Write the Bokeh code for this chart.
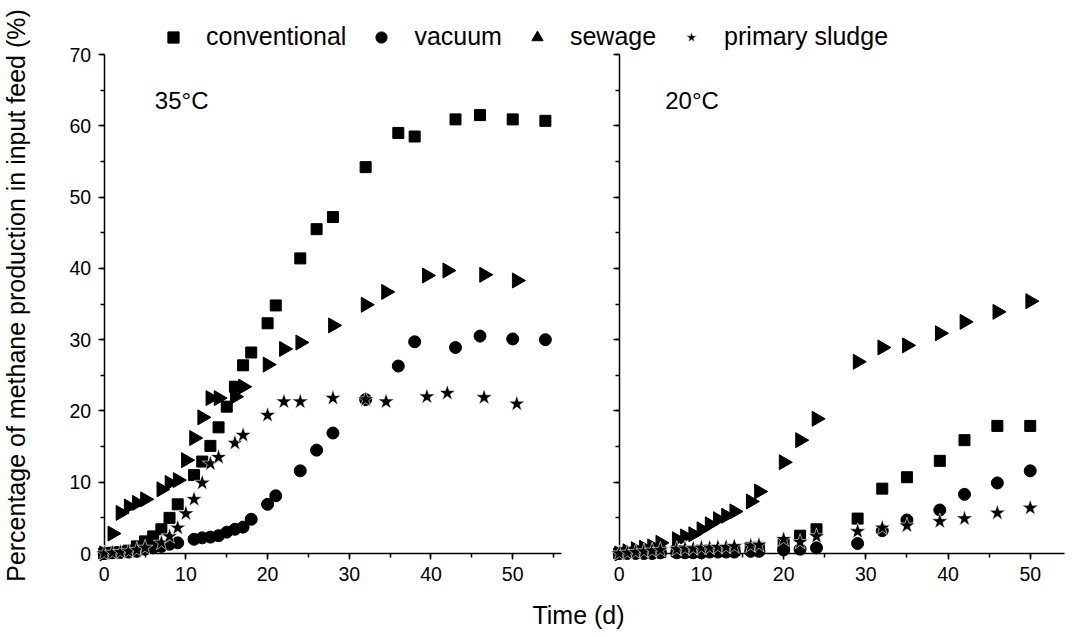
import math
from bokeh.plotting import figure
from bokeh.models import (Range1d, SingleIntervalTicker, Label, Legend, LegendItem,
                          LinearAxis, CustomJSTickFormatter)
from bokeh.embed import file_html
from bokeh.resources import INLINE

FONT = "Liberation Sans"

# ---------------- data ----------------
series_names = ["conventional", "vacuum", "sewage", "primary sludge"]
panel_titles = ["35\u00b0C", "20\u00b0C"]

# 35 C : conventional & vacuum sampled on the same days
t_cv_35 = [0, 1, 2, 3, 4, 5, 6, 7, 8, 9, 11, 12, 13, 14, 15, 16, 17, 18, 20, 21,
           24, 26, 28, 32, 36, 38, 43, 46, 50, 54]
conventional_35 = [0, 0.1, 0.2, 0.4, 1.0, 1.7, 2.4, 3.4, 5.0, 6.9, 11.0, 12.9, 15.1, 17.7,
                   20.6, 23.4, 26.4, 28.2, 32.3, 34.8, 41.4, 45.5, 47.2, 54.2, 59.0, 58.5,
                   60.9, 61.5, 60.9, 60.7]
vacuum_35 = [0, 0.1, 0.15, 0.2, 0.3, 0.6, 0.8, 1.0, 1.3, 1.5, 2.0, 2.2, 2.3, 2.5, 3.0,
             3.4, 3.7, 4.8, 6.9, 8.1, 11.6, 14.5, 16.9, 21.6, 26.3, 29.7, 28.9, 30.5,
             30.1, 30.0]
# 35 C : sewage & primary sludge sampled on the same days
t_sp_35 = [0, 1, 2, 3, 4, 5, 7, 8, 9, 10, 11, 12, 13, 14, 16, 17, 20, 22, 24, 28, 32,
           34.5, 39.5, 42, 46.5, 50.5]
sewage_35 = [0, 2.8, 5.7, 6.6, 7.1, 7.6, 9.0, 9.9, 10.3, 13.1, 16.2, 19.1, 21.8, 21.8,
             22.0, 23.4, 26.5, 28.7, 29.6, 32.0, 34.9, 36.7, 39.0, 39.7, 39.1, 38.3]
primary_35 = [0, 0.1, 0.2, 0.3, 0.5, 0.8, 1.5, 2.4, 3.6, 5.6, 7.6, 9.9, 12.6, 13.5,
              15.5, 16.6, 19.4, 21.3, 21.3, 21.8, 21.6, 21.3, 22.0, 22.5, 21.9, 21.0]

# 20 C : all four sampled on the same days
t_20 = [0, 1, 2, 3, 4, 5, 7, 8, 9, 10, 11, 12, 13, 14, 16, 17, 20, 22, 24, 29, 32, 35,
        39, 42, 46, 50]
conventional_20 = [0, 0.1, 0.1, 0.2, 0.2, 0.2, 0.3, 0.3, 0.3, 0.4, 0.4, 0.4, 0.5, 0.5,
                   0.8, 0.8, 1.3, 2.5, 3.4, 4.9, 9.1, 10.7, 13.0, 15.9, 17.9, 17.9]
vacuum_20 = [0, 0, 0, 0, 0, 0.1, 0.1, 0.1, 0.1, 0.1, 0.2, 0.2, 0.2, 0.2, 0.3, 0.3, 0.5,
             0.6, 0.8, 1.4, 3.2, 4.7, 6.1, 8.3, 9.9, 11.6]
sewage_20 = [0, 0.3, 0.6, 0.8, 1.0, 1.5, 2.0, 2.4, 2.7, 3.4, 4.1, 4.8, 5.3, 5.9, 7.3,
             8.7, 12.8, 15.9, 18.9, 26.9, 28.9, 29.2, 30.9, 32.5, 33.9, 35.4]
primary_20 = [0, 0.1, 0.2, 0.3, 0.4, 0.5, 0.6, 0.7, 0.7, 0.8, 0.8, 0.9, 0.9, 1.0, 1.1,
              1.2, 2.0, 1.6, 2.4, 3.1, 3.6, 3.9, 4.5, 4.9, 5.7, 6.4]

x_label = "Time (d)"
y_label = "Percentage of methane production in input feed (%)"

# ---------------- styles ----------------
MARK = {
    "conventional": dict(marker="square", size=11, fill_color="black", line_color="black"),
    "vacuum": dict(marker="circle", size=12, fill_color="black", line_color="black"),
    "sewage": dict(marker="triangle", size=15, angle=-math.pi / 2, fill_color="black",
                   line_color="black"),
    "primary sludge": dict(marker="star", size=17, fill_color="black", line_color="white",
                           line_width=0.6),
}


def make_axis(range_name, bounds, labels=True):
    kw = {"x_range_name": range_name} if range_name else {}
    ax = LinearAxis(fixed_location=0, bounds=bounds, **kw)
    ax.ticker = SingleIntervalTicker(interval=10, num_minor_ticks=2)
    ax.axis_line_width = 1.5
    ax.axis_line_color = "black"
    ax.major_tick_line_width = 1.5
    ax.minor_tick_line_width = 1.5
    ax.major_tick_line_color = "black"
    ax.minor_tick_line_color = "black"
    ax.major_tick_in = 0
    ax.major_tick_out = 6
    ax.minor_tick_in = 0
    ax.minor_tick_out = 4
    ax.major_label_text_font = FONT
    ax.major_label_text_font_size = "19.5px"
    ax.major_label_text_color = "black"
    ax.major_label_standoff = 7
    if not labels:
        ax.formatter = CustomJSTickFormatter(code="return ''")
    return ax


# one canvas whose frame fills it; left panel = default x range, right panel = range "R"
p = figure(width=1065, height=629,
           x_range=Range1d(-12.69, 117.66), y_range=Range1d(-10.66, 77.58),
           extra_x_ranges={"R": Range1d(-75.27, 54.29)},
           x_axis_location=None, y_axis_location=None,
           output_backend="svg", toolbar_location=None,
           min_border_left=0, min_border_right=0, min_border_top=0, min_border_bottom=0)
p.outline_line_color = None
p.grid.visible = False

# axes of both panels, each drawn at the panel's own x=0 / y=0
p.add_layout(make_axis(None, (0, 56)), "below")
p.add_layout(make_axis("R", (0, 54.2)), "below")
p.add_layout(make_axis(None, (0, 70)), "left")
p.add_layout(make_axis("R", (0, 70), labels=False), "left")

# left panel (35 C)
r_cv = p.scatter(t_cv_35, conventional_35, level="overlay", **MARK["conventional"])
r_va = p.scatter(t_cv_35, vacuum_35, level="overlay", **MARK["vacuum"])
r_sw = p.scatter(t_sp_35, sewage_35, level="overlay", **MARK["sewage"])
r_ps = p.scatter(t_sp_35, primary_35, level="overlay", **MARK["primary sludge"])

# right panel (20 C)
p.scatter(t_20, conventional_20, x_range_name="R", level="overlay", **MARK["conventional"])
p.scatter(t_20, vacuum_20, x_range_name="R", level="overlay", **MARK["vacuum"])
p.scatter(t_20, sewage_20, x_range_name="R", level="overlay", **MARK["sewage"])
p.scatter(t_20, primary_20, x_range_name="R", level="overlay", **MARK["primary sludge"])

p.add_layout(Label(x=6.2, y=63.5, text=panel_titles[0], text_baseline="middle",
                   text_align="left", text_font=FONT, text_font_size="24px",
                   text_color="black"))
p.add_layout(Label(x=5.6, y=63.5, x_range_name="R", text=panel_titles[1],
                   text_baseline="middle", text_align="left", text_font=FONT,
                   text_font_size="24px", text_color="black"))

# legend above the panels
legend = Legend(items=[LegendItem(label=n, renderers=[r]) for n, r in
                       zip(series_names, [r_cv, r_va, r_sw, r_ps])],
                orientation="horizontal", location=(158, 578),
                glyph_width=30, glyph_height=28, label_standoff=18, spacing=20,
                padding=0, margin=0, border_line_color=None, background_fill_alpha=0,
                label_text_font=FONT, label_text_font_size="25px",
                label_text_color="black")
p.add_layout(legend)

# axis titles
p.add_layout(Label(x=15, y=334, x_units="screen", y_units="screen", text=y_label,
                   angle=math.pi / 2, text_align="center", text_baseline="middle",
                   text_font=FONT, text_font_size="25px", text_color="black"))
p.add_layout(Label(x=578, y=15, x_units="screen", y_units="screen", text=x_label,
                   text_align="center", text_baseline="middle", text_font=FONT,
                   text_font_size="25px", text_color="black"))

open("out.html", "w").write(file_html(p, INLINE))
